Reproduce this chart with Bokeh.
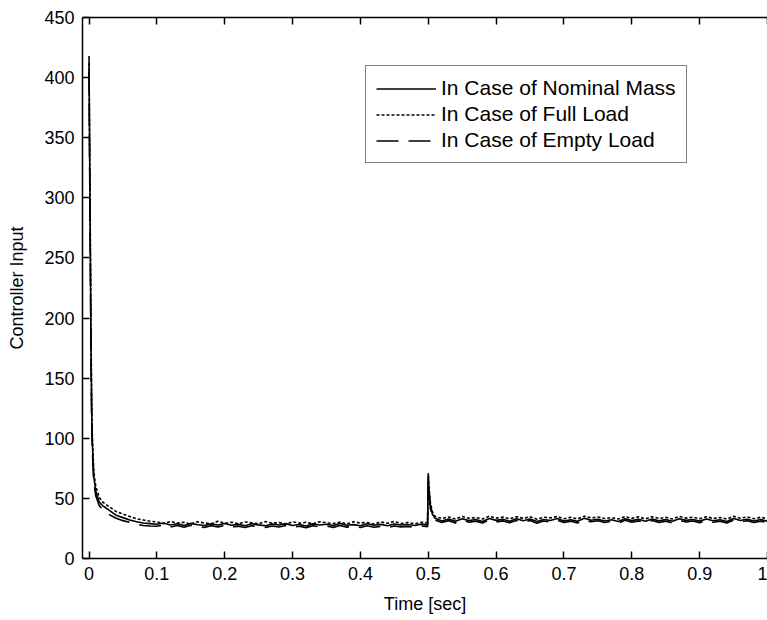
from bokeh.plotting import figure
from bokeh.models import LinearAxis, FixedTicker, Legend, LegendItem, Range1d, CustomLabelingPolicy
from bokeh.embed import file_html
from bokeh.resources import INLINE

# ---- data ----
time_early = [0, 0.001, 0.002, 0.003, 0.004, 0.005, 0.007, 0.01, 0.015, 0.02,
              0.025, 0.03, 0.035, 0.04, 0.045, 0.05, 0.06, 0.07, 0.08, 0.09]
time_mid = [0.10, 0.11, 0.12, 0.13, 0.14, 0.15, 0.16, 0.17, 0.18, 0.19,
            0.20, 0.21, 0.22, 0.23, 0.24, 0.25, 0.26, 0.27, 0.28, 0.29,
            0.30, 0.31, 0.32, 0.33, 0.34, 0.35, 0.36, 0.37, 0.38, 0.39,
            0.40, 0.41, 0.42, 0.43, 0.44, 0.45, 0.46, 0.47, 0.48, 0.49]
time_spike = [0.499, 0.5, 0.501, 0.503, 0.506]
time_late = [0.51, 0.52, 0.53, 0.54, 0.55, 0.56, 0.57, 0.58, 0.59, 0.60,
             0.61, 0.62, 0.63, 0.64, 0.65, 0.66, 0.67, 0.68, 0.69, 0.70,
             0.71, 0.72, 0.73, 0.74, 0.75, 0.76, 0.77, 0.78, 0.79, 0.80,
             0.81, 0.82, 0.83, 0.84, 0.85, 0.86, 0.87, 0.88, 0.89, 0.90,
             0.91, 0.92, 0.93, 0.94, 0.95, 0.96, 0.97, 0.98, 0.99, 1.00]

nominal_early = [418, 330, 250, 170, 120, 95, 68, 56, 47, 44, 42, 40, 38, 36, 35, 34, 32, 30.5, 29.5, 29]
nominal_mid = [28.5, 29.5, 27.8, 28.9, 27.5, 29.2, 28.1, 27.4, 28.8, 27.9,
               29.1, 27.6, 28.4, 27.2, 28.9, 28.0, 27.3, 28.7, 27.8, 29.0,
               27.5, 28.3, 27.1, 28.8, 27.9, 28.5, 27.4, 29.1, 27.7, 28.2,
               27.3, 28.9, 27.6, 28.4, 27.2, 28.7, 27.9, 28.3, 27.5, 28.6]
nominal_spike = [28.0, 71, 58, 45, 37]
nominal_late = [33.5, 31.2, 32.8, 30.9, 33.1, 31.5, 32.4, 30.8, 33.3, 31.7,
                32.6, 31.0, 33.0, 31.4, 32.9, 30.7, 32.5, 31.6, 33.2, 31.1,
                32.3, 30.9, 33.4, 31.8, 32.7, 31.2, 32.2, 30.8, 33.1, 31.5,
                32.6, 31.0, 32.9, 31.3, 32.4, 30.9, 33.0, 31.7, 32.5, 31.1,
                32.8, 31.4, 32.3, 30.8, 33.2, 31.6, 32.7, 31.2, 32.4, 31.0]

full_early = [412, 340, 265, 185, 130, 100, 72, 60, 51, 47, 45, 43, 41, 39, 38, 37, 35, 33, 32, 31]
full_mid = [30.5, 29.0, 30.8, 29.4, 30.1, 28.7, 30.6, 29.5, 29.0, 30.9,
            29.3, 30.2, 28.8, 30.4, 29.6, 28.9, 30.7, 29.2, 30.0, 28.6,
            30.5, 29.4, 30.1, 28.9, 30.6, 29.7, 29.0, 30.3, 28.8, 30.5,
            29.5, 30.0, 28.7, 30.4, 29.3, 30.8, 29.1, 29.9, 28.8, 30.2]
full_spike = [29.6, 69, 60, 47, 39]
full_late = [35.0, 33.2, 34.6, 32.8, 34.9, 33.5, 34.1, 32.9, 35.2, 33.6,
             34.4, 33.0, 34.8, 33.3, 34.7, 32.7, 34.3, 33.8, 35.0, 33.1,
             34.2, 32.9, 35.1, 33.7, 34.5, 33.2, 34.0, 32.8, 34.9, 33.4,
             34.6, 33.0, 34.8, 33.3, 34.2, 32.9, 35.0, 33.6, 34.4, 33.1,
             34.7, 33.3, 34.1, 32.8, 35.1, 33.5, 34.6, 33.1, 34.3, 33.0]

empty_early = [405, 320, 240, 160, 112, 88, 63, 52, 44, 41, 38.5, 36.5, 35, 33.5, 32.5, 31.5, 30, 28.5, 27.5, 27]
empty_mid = [26.8, 27.9, 26.2, 27.4, 26.0, 27.6, 26.5, 25.9, 27.2, 26.3,
             27.5, 26.1, 26.9, 25.8, 27.3, 26.4, 25.9, 27.1, 26.2, 27.4,
             26.0, 26.8, 25.7, 27.2, 26.3, 26.9, 25.9, 27.5, 26.1, 26.7,
             25.8, 27.3, 26.0, 26.8, 25.7, 27.1, 26.3, 26.7, 25.9, 27.0]
empty_spike = [26.5, 66, 54, 42, 35]
empty_late = [32.0, 30.0, 31.5, 29.6, 31.8, 30.2, 31.1, 29.5, 32.0, 30.4,
              31.3, 29.8, 31.7, 30.1, 31.6, 29.4, 31.2, 30.3, 31.9, 29.9,
              31.0, 29.6, 32.1, 30.5, 31.4, 30.0, 30.9, 29.5, 31.8, 30.2,
              31.3, 29.7, 31.6, 30.0, 31.1, 29.6, 31.7, 30.4, 31.2, 29.8,
              31.5, 30.1, 31.0, 29.5, 31.9, 30.3, 31.4, 29.9, 31.1, 29.7]

x_ticks = [0, 0.1, 0.2, 0.3, 0.4, 0.5, 0.6, 0.7, 0.8, 0.9, 1.0]
x_tick_labels = ["0", "0.1", "0.2", "0.3", "0.4", "0.5", "0.6", "0.7", "0.8", "0.9", "1"]
y_ticks = [0, 50, 100, 150, 200, 250, 300, 350, 400, 450]
y_tick_labels = ["0", "50", "100", "150", "200", "250", "300", "350", "400", "450"]
series_labels = ["In Case of Nominal Mass", "In Case of Full Load", "In Case of Empty Load"]

time = time_early + time_mid + time_spike + time_late
nominal = nominal_early + nominal_mid + nominal_spike + nominal_late
full = full_early + full_mid + full_spike + full_late
empty = empty_early + empty_mid + empty_spike + empty_late

FONT = "Liberation Sans"

p = figure(width=767, height=620,
           x_range=Range1d(-0.0096, 1.0), y_range=Range1d(0, 450),
           output_backend="svg", toolbar_location=None,
           min_border_left=82, min_border_right=0,
           min_border_top=17, min_border_bottom=62)
p.outline_line_color = None
p.grid.visible = False
p.background_fill_color = "white"
p.border_fill_color = "white"

r1 = p.line(time, nominal, line_color="black", line_width=1.6)
r2 = p.line(time, full, line_color="black", line_width=1.6, line_dash="3 2")
r3 = p.line(time, empty, line_color="black", line_width=1.6, line_dash="22 10")


def style_axis(ax, ticks, labels, show_labels=True):
    ax.ticker = FixedTicker(ticks=ticks)
    ax.minor_tick_line_color = None
    ax.major_tick_in = 7
    ax.major_tick_out = 0
    ax.axis_line_color = "black"
    ax.axis_line_width = 1.5
    ax.major_tick_line_color = "black"
    ax.major_tick_line_width = 1.5
    ax.major_label_text_font = FONT
    ax.major_label_text_color = "black"
    if show_labels:
        ax.major_label_overrides = {t: l for t, l in zip(ticks, labels)}
        ax.major_label_text_font_size = "18px"
    else:
        ax.major_label_overrides = {t: "" for t in ticks}
        ax.major_label_text_font_size = "1px"
        ax.major_label_standoff = 0
        ax.major_label_policy = CustomLabelingPolicy(code="""
            try { for (let i = 0; i < indices.size; i++) { indices.unset(i) } } catch (e) {}
            return indices
        """)


style_axis(p.xaxis[0], x_ticks, x_tick_labels)
style_axis(p.yaxis[0], y_ticks, y_tick_labels)
p.xaxis[0].major_label_standoff = 8
p.yaxis[0].major_label_standoff = 8

p.xaxis[0].axis_label = "Time [sec]"
p.yaxis[0].axis_label = "Controller Input"
for ax in (p.xaxis[0], p.yaxis[0]):
    ax.axis_label_text_font = FONT
    ax.axis_label_text_font_size = "18px"
    ax.axis_label_text_font_style = "normal"
    ax.axis_label_text_color = "black"
p.xaxis[0].axis_label_standoff = 11
p.yaxis[0].axis_label_standoff = 14

top_axis = LinearAxis()
style_axis(top_axis, x_ticks, x_tick_labels, show_labels=False)
p.add_layout(top_axis, "above")

legend = Legend(items=[LegendItem(label=series_labels[0], renderers=[r1]),
                       LegendItem(label=series_labels[1], renderers=[r2]),
                       LegendItem(label=series_labels[2], renderers=[r3])],
                location=(283, 395))
legend.label_text_font = FONT
legend.label_text_font_size = "21px"
legend.label_text_color = "black"
legend.glyph_width = 60
legend.glyph_height = 21
legend.label_height = 21
legend.label_standoff = 5
legend.padding = 10
legend.spacing = 2
legend.margin = 0
legend.border_line_color = "black"
legend.border_line_width = 1
legend.background_fill_color = "white"
legend.background_fill_alpha = 1
p.add_layout(legend)

open("out.html", "w").write(file_html(p, INLINE))
